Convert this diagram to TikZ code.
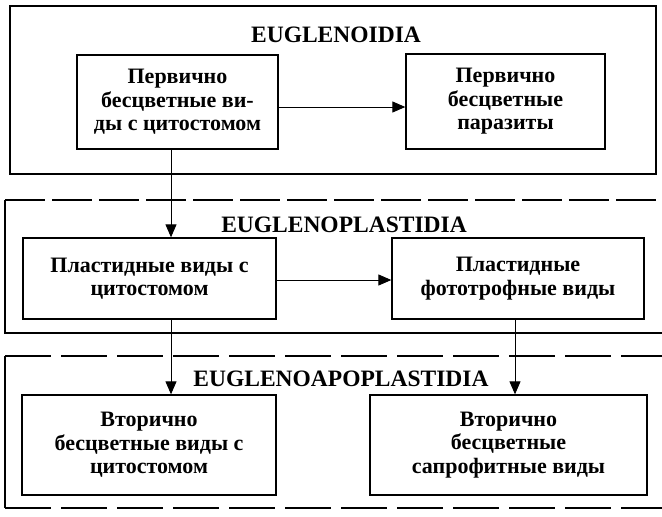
\documentclass[tikz,border=0pt]{standalone}
\usepackage{fontspec}
\setmainfont{Liberation Serif}
\usetikzlibrary{arrows.meta}
\begin{document}
\begin{tikzpicture}[x=1pt,y=-1pt,
  taxon/.style={draw,line width=1.3pt,align=center,inner sep=0pt,
    font=\bfseries\fontsize{22}{23.5}\selectfont},
  title/.style={anchor=base,inner sep=0pt,font=\bfseries\fontsize{23.5}{26}\selectfont},
  frame/.style={line width=1.3pt},
  arr/.style={line width=1pt,-{Triangle[length=13pt,width=11pt]}}]
\useasboundingbox (0,0) rectangle (662,517);
% outer frames
\draw[frame] (10,6) rectangle (656,174);
\draw[frame] (662,333) -- (5,333) -- (5,200);
\draw[frame,dash pattern=on 40pt off 7pt] (5,200) -- (662,200);
\draw[frame] (5,356) -- (5,508);
\draw[frame,dash pattern=on 46pt off 10pt] (5,356) -- (662,356);
\draw[frame,dash pattern=on 46pt off 10pt] (5,508) -- (662,508);
% titles
\node[title] (t1) at (336,42) {EUGLENOIDIA};
\node[title] (t2) at (344,232) {EUGLENOPLASTIDIA};
\node[title] (t3) at (341,386) {EUGLENOAPOPLASTIDIA};
% boxes
\node[taxon,minimum width=201pt,minimum height=94pt] (A) at (177.5,102) {Первично\\бесцветные ви-\\ды с цитостомом};
\node[taxon,minimum width=199pt,minimum height=95pt] (B) at (505.5,101.5) {Первично\\бесцветные\\паразиты};
\node[taxon,minimum width=253pt,minimum height=81pt] (C) at (149.5,278.5) {Пластидные виды с\\цитостомом};
\node[taxon,minimum width=252pt,minimum height=81pt] (D) at (518,278.5) {Пластидные\\фототрофные виды};
\node[taxon,minimum width=254pt,minimum height=100pt] (E) at (149,445) {Вторично\\бесцветные виды с\\цитостомом};
\node[taxon,minimum width=277pt,minimum height=100pt] (F) at (508.5,445) {Вторично\\бесцветные\\сапрофитные виды};
% connectors
\draw[arr] ([yshift=-5pt]A.east) -- ([yshift=-5pt]A.east -| B.west);
\draw[arr] ([xshift=-6.5pt]A.south) -- ([xshift=-6.5pt]A.south |- C.north);
\draw[arr] ([yshift=-1.5pt]C.east) -- ([yshift=-1.5pt]C.east -| D.west);
\draw[arr] ([xshift=21.5pt]C.south) -- ([xshift=21.5pt]C.south |- E.north);
\draw[arr] ([xshift=-3pt]D.south) -- ([xshift=-3pt]D.south |- F.north);
\end{tikzpicture}
\end{document}
